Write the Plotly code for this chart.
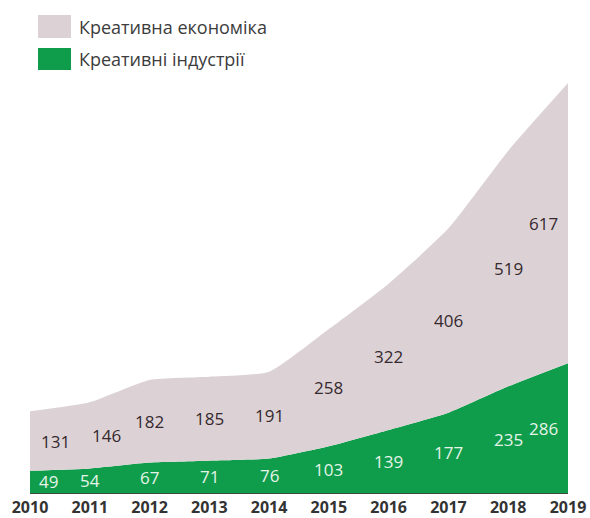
import plotly.graph_objects as go

years = [2010, 2011, 2012, 2013, 2014, 2015, 2016, 2017, 2018, 2019]
industries = [49, 54, 67, 71, 76, 103, 139, 177, 235, 286]
economy = [131, 146, 182, 185, 191, 258, 322, 406, 519, 617]
series_names = ["Креативна економіка", "Креативні індустрії"]

GREY = "#dcd2d5"
GREEN = "#0f9d4c"
FONT = "'Open Sans', Lato, sans-serif"

W, H = 590, 518
L, R, T, B = 30, 22, 39, 25
PW, PH = W - L - R, H - T - B

fig = go.Figure()
fig.add_trace(go.Scatter(
    x=years, y=industries, stackgroup="s", mode="none",
    fillcolor=GREEN, line=dict(shape="spline", smoothing=0.5),
    name=series_names[1], hoverinfo="skip"))
fig.add_trace(go.Scatter(
    x=years, y=economy, stackgroup="s", mode="none",
    fillcolor=GREY, line=dict(shape="spline", smoothing=0.5),
    name=series_names[0], hoverinfo="skip"))

# value labels (midpoint of each band)
n = len(years)
for i, (yr, g, e) in enumerate(zip(years, industries, economy)):
    xs = 0
    if i == 0:
        xs = 18
    elif i == n - 1:
        xs = -25
    gx = xs
    ex = xs + (7 if i == 0 else 0)
    if i == 1:
        ex = 17
    fig.add_annotation(x=yr, y=g / 2, text=str(g), showarrow=False,
                       xshift=gx, font=dict(family=FONT, size=17, color="#e6f4e8"))
    fig.add_annotation(x=yr, y=g + e / 2, text=str(e), showarrow=False,
                       xshift=ex, font=dict(family=FONT, size=17, color="#35282e"))

# legend drawn manually (pixel positions converted to paper coords)
def px(xf):
    return (xf - L) / PW

def py(yf):
    return (H - B - yf) / PH

legend_items = [(series_names[0], GREY, 15, 38), (series_names[1], GREEN, 48, 70)]
for name, col, top, bot in legend_items:
    fig.add_shape(type="rect", xref="paper", yref="paper",
                  x0=px(38), x1=px(71), y0=py(bot), y1=py(top),
                  fillcolor=col, line=dict(width=0))
    fig.add_annotation(xref="paper", yref="paper", x=px(77),
                       y=py((top + bot) / 2), text=name, showarrow=False,
                       xanchor="left", yanchor="middle",
                       font=dict(family=FONT, size=18, color="#3c3c3c"))

fig.update_layout(
    width=W, height=H,
    margin=dict(l=L, r=R, t=T, b=B, autoexpand=False),
    paper_bgcolor="white", plot_bgcolor="white",
    showlegend=False,
    xaxis=dict(range=[2010, 2019], tickmode="array", tickvals=years,
               ticktext=[str(y) for y in years], showgrid=False, zeroline=False,
               showline=True, linecolor="#3d4a40", linewidth=1,
               ticks="", ticklabelstandoff=0, automargin=False,
               tickfont=dict(family=FONT, size=16, color="#333333", weight="bold")),
    yaxis=dict(range=[0, 1000], visible=False, showgrid=False),
)

fig.write_html("out.html",
               config={"displayModeBar": False},
               post_script="document.body.style.margin='0';document.body.style.overflow='hidden';")
